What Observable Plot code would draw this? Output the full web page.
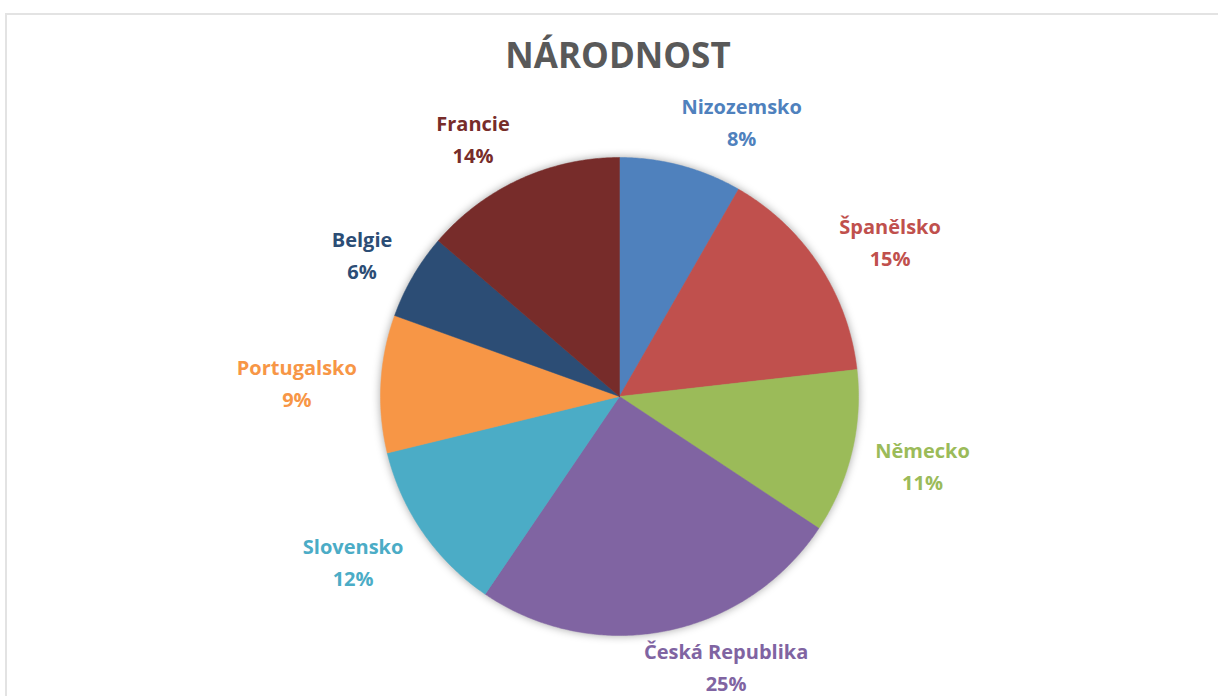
<!DOCTYPE html>
<html>
<head>
<meta charset="utf-8">
<script src="https://cdn.jsdelivr.net/npm/d3@7"></script>
<script src="https://cdn.jsdelivr.net/npm/@observablehq/plot@0.6"></script>
<style>
  html, body { margin: 0; padding: 0; background: #fff; }
  #wrap { position: relative; width: 1218px; height: 696px; overflow: hidden; }
  #frame { position: absolute; left: 5px; top: 13px; right: -10px; bottom: -10px;
           border-top: 2px solid #e3e3e3; border-left: 2px solid #e3e3e3; }
  #title { position: absolute; left: 0; width: 1236px; top: 33px; text-align: center;
           font: bold 35px "Open Sans", sans-serif; line-height: 44px; color: #595959; }
  #chart { position: absolute; left: 0; top: 0; }
</style>
</head>
<body>
<div id="wrap">
  <div id="frame"></div>
  <div id="chart"></div>
  <div id="title">NÁRODNOST</div>
</div>
<script>
// ---- data ----
const categories = ["Nizozemsko", "Španělsko", "Německo", "Česká Republika", "Slovensko", "Portugalsko", "Belgie", "Francie"];
const values = [8.3, 14.9, 11.1, 25.2, 11.7, 9.3, 5.8, 13.7];
const colors = ["#4F81BD", "#C0504D", "#9BBB59", "#8064A2", "#4BACC6", "#F79646", "#2C4D75", "#772C2A"];

// ---- layout ----
const W = 1218, H = 696;
const CX = 619, CY = 396, R = 239;
const FONT_PX = 20;
const FONT_FAMILY = "Open Sans";
const FONT = `bold ${FONT_PX}px "${FONT_FAMILY}"`;

const total = d3.sum(values);
const slices = [];
let cum = 0;
categories.forEach((name, i) => {
  const a0 = cum / total * 2 * Math.PI;
  cum += values[i];
  const a1 = cum / total * 2 * Math.PI;
  slices.push({name, value: values[i], a0, a1, pct: Math.round(values[i] / total * 100)});
});

// slice outlines in data units (unit circle, y up, clockwise from top)
const pts = [];
for (const s of slices) {
  pts.push({name: s.name, x: 0, y: 0});
  const n = Math.max(2, Math.ceil((s.a1 - s.a0) / (Math.PI / 360)));
  for (let k = 0; k <= n; k++) {
    const a = s.a0 + (s.a1 - s.a0) * k / n;
    pts.push({name: s.name, x: Math.sin(a), y: Math.cos(a)});
  }
  pts.push({name: s.name, x: 0, y: 0});
}

// label placement (outside end, kept inside the chart area)
const ctx = document.createElement("canvas").getContext("2d");
ctx.font = FONT;
const gap = 24 / R;
const halfH = 33 / R;
const yMin = -(H - CY) / R + 32 / R;
const labels = slices.map(s => {
  const a = (s.a0 + s.a1) / 2;
  const sa = Math.sin(a), ca = Math.cos(a);
  const w = ctx.measureText(s.name).width / R;
  const sx = Math.max(-1, Math.min(1, 3.5 * sa));
  return {
    name: s.name,
    text: `${s.name}\n${s.pct}%`,
    x: (1 + gap) * sa + (w / 2) * sx,
    y: Math.max(yMin, (1 + gap) * ca + halfH * ca * 0.7)
  };
});

const plot = Plot.plot({
  width: W,
  height: H,
  margin: 0,
  x: {domain: [-CX / R, (W - CX) / R], axis: null},
  y: {domain: [-(H - CY) / R, CY / R], axis: null},
  color: {domain: categories, range: colors},
  marks: [
    Plot.line(pts, {x: "x", y: "y", z: "name", fill: "name", stroke: "name", strokeWidth: 0.5, curve: "linear"}),
    Plot.text(labels, {x: "x", y: "y", text: "text", fill: "name", fontSize: FONT_PX, fontWeight: "bold",
                       fontFamily: FONT_FAMILY, lineHeight: 1.6, textAnchor: "middle"})
  ]
});
plot.style.background = "transparent";
d3.select(plot).select('g[aria-label="line"]').style("filter", "drop-shadow(0px 0px 4px rgba(0,0,0,0.35))");
document.getElementById("chart").appendChild(plot);
</script>
</body>
</html>
